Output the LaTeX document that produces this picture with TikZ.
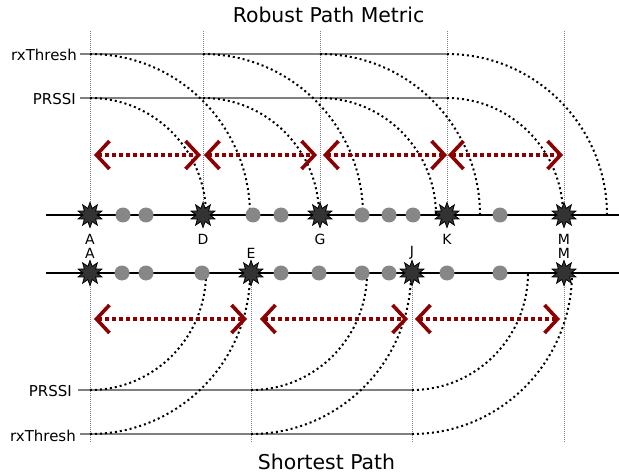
\documentclass[tikz,border=0pt]{standalone}
\usepackage{fontspec}
\setmainfont{DejaVu Sans}
\usetikzlibrary{shapes.geometric,arrows.meta}
\definecolor{darkred}{RGB}{139,0,0}
\definecolor{dotgray}{RGB}{135,135,135}
\definecolor{stargray}{RGB}{51,51,51}
\definecolor{linegray}{RGB}{128,128,128}
\begin{document}
\begin{tikzpicture}[x=1pt,y=-1pt,
  sensor/.style={draw=black, fill=stargray, star, star points=10, star point ratio=1.8, minimum size=25pt, inner sep=0pt, line width=0.8pt},
  relay/.style={circle, fill=dotgray, minimum size=15pt, inner sep=0pt},
  linkline/.style={line width=2.5pt, black},
  thresh/.style={line width=1.2pt, linegray},
  guide/.style={gray, line width=0.7pt, dash pattern=on 1pt off 1pt},
  reach/.style={line width=2pt, dash pattern=on 2pt off 3pt},
  hop/.style={darkred, line width=3.6pt, dash pattern=on 4pt off 3pt,
    {Straight Barb[length=13pt,width=28pt]}-{Straight Barb[length=13pt,width=28pt]}},
  lbl/.style={font=\fontsize{14}{15}\selectfont, inner sep=0pt},
  sidelbl/.style={font=\fontsize{15}{16}\selectfont, inner sep=0pt, anchor=east},
  titlelbl/.style={font=\fontsize{20.4}{22}\selectfont, inner sep=0pt, anchor=base}]
\useasboundingbox (0,0) rectangle (619,476);

% titles
\node[titlelbl] (t1) at (328.5,23) {Robust Path Metric};
\node[titlelbl] (t2) at (326.5,469) {Shortest Path};

% ===== top: robust path metric =====
\node[sidelbl] (rxT) at (77,55) {rxThresh};
\node[sidelbl] (prT) at (76,99) {PRSSI};
\draw[thresh] (80,54) -- (447,54);
\draw[thresh] (80,98) -- (447,98);
\foreach \x in {90,203,320,447,564} { \draw[guide] (\x,31) -- (\x,215); }
\foreach \x in {90,203,320,447} {
  \draw[reach] (\x,98) arc[start angle=90, end angle=0, x radius=116pt, y radius=117pt];
  \draw[reach] (\x,54) arc[start angle=90, end angle=0, x radius=160pt, y radius=161pt];
}
\coordinate (tl) at (46,215);
\coordinate (tr) at (619,215);
\draw[linkline] (tl) -- (tr);
\foreach \x [count=\i] in {123,146,253,281,362,389,413,500} { \node[relay] (td\i) at (\x,215) {}; }
\foreach \n/\x in {A/90,D/203,G/320,K/447,M/564} {
  \node[sensor] (t\n) at (\x,215) {};
  \node[lbl] (lt\n) at (\x,239) {\n};
}
\coordinate (ta1) at (94,155);  \coordinate (tb1) at (201,155);
\coordinate (ta2) at (204,155); \coordinate (tb2) at (317,155);
\coordinate (ta3) at (323,155); \coordinate (tb3) at (447,155);
\coordinate (ta4) at (448,155); \coordinate (tb4) at (563,155);
\foreach \i in {1,2,3,4} { \draw[hop] (ta\i) -- (tb\i); }

% ===== bottom: shortest path =====
\node[sidelbl] (prB) at (72,391) {PRSSI};
\node[sidelbl] (rxB) at (76,436) {rxThresh};
\draw[thresh] (78,390) -- (412,390);
\draw[thresh] (80,434) -- (412,434);
\foreach \x in {90,251,412,564} { \draw[guide] (\x,273) -- (\x,443); }
\foreach \x in {90,251,412} {
  \draw[reach] (\x,390) arc[start angle=270, end angle=360, x radius=116pt, y radius=117pt];
  \draw[reach] (\x,434) arc[start angle=270, end angle=360, x radius=160pt, y radius=161pt];
}
\coordinate (bl) at (46,273);
\coordinate (br) at (619,273);
\draw[linkline] (bl) -- (br);
\foreach \x [count=\i] in {122,146,202,281,319,362,389,447,500} { \node[relay] (bd\i) at (\x,273) {}; }
\foreach \n/\x in {A/90,E/251,J/412,M/564} {
  \node[sensor] (b\n) at (\x,273) {};
  \node[lbl] (lb\n) at (\x,253) {\n};
}
\coordinate (ba1) at (94,319);  \coordinate (bb1) at (247,319);
\coordinate (ba2) at (260,319); \coordinate (bb2) at (408,319);
\coordinate (ba3) at (415,319); \coordinate (bb3) at (560,319);
\foreach \i in {1,2,3} { \draw[hop] (ba\i) -- (bb\i); }
\end{tikzpicture}
\end{document}
